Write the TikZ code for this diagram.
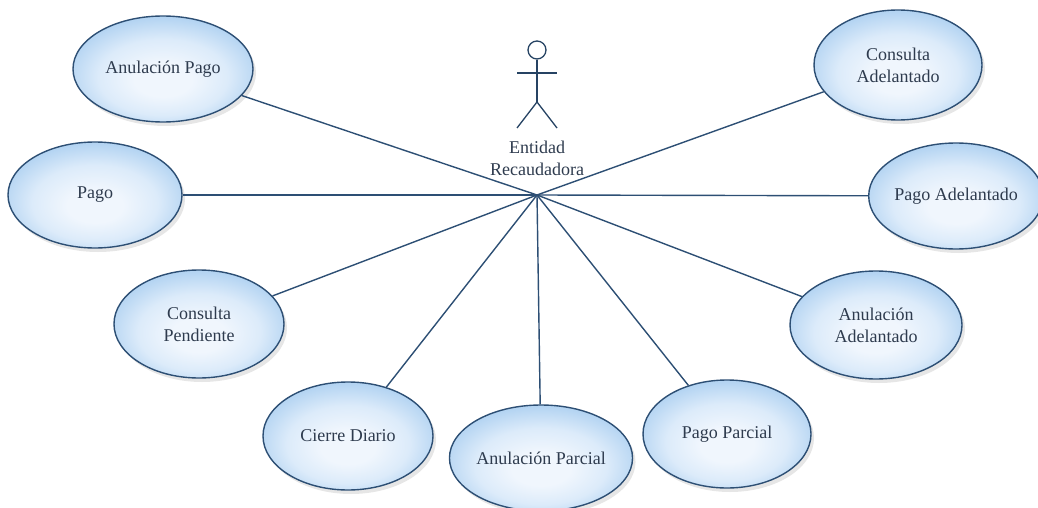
\documentclass[tikz,border=0pt]{standalone}
\usepackage{fontspec}
\setmainfont{Liberation Serif}
\usetikzlibrary{shapes.geometric,shadows}
\definecolor{edgeblue}{HTML}{2D4F74}
\definecolor{txtcol}{HTML}{2E3B4E}
\definecolor{innerblue}{HTML}{F0F6FD}
\definecolor{midblue}{HTML}{DCEBFA}
\definecolor{outerblue}{HTML}{B4D4F2}
\pgfdeclareradialshading{ucshade}{\pgfpoint{0bp}{-6bp}}{%
  color(0bp)=(innerblue); color(8bp)=(innerblue); color(18bp)=(midblue);
  color(27bp)=(outerblue); color(50bp)=(outerblue)}
\tikzset{
  usecase/.style={ellipse, draw=edgeblue, line width=1.4pt,
    shading=ucshade,
    text=txtcol, align=center, inner sep=0pt,
    font=\fontsize{18}{22}\selectfont,
    drop shadow={shadow xshift=3pt, shadow yshift=-4pt, opacity=0.16, fill=black!60}},
  link/.style={draw=edgeblue, line width=1.4pt},
  actorline/.style={draw=edgeblue!85!black, line width=1.3pt},
}
\newcommand{\uc}[5]{\node[usecase, minimum width=#3pt, minimum height=#4pt] (#1) at #2 {#5};}
\begin{document}
\begin{tikzpicture}[x=1pt,y=-1pt]
\useasboundingbox (0,0) rectangle (1038,508);
\coordinate (hub) at (537,195);
\uc{ap}{(163,69)}{180}{106}{Anulación Pago}
\uc{pago}{(95,195)}{174}{106}{Pago}
\uc{cp}{(199,324)}{170}{108}{Consulta\\Pendiente}
\uc{cd}{(348,436)}{170}{108}{Cierre Diario}
\uc{anp}{(541,458)}{168}{106}{Anulación Parcial}
\uc{pp}{(727,434)}{168}{108}{Pago Parcial}
\uc{aa}{(876,325)}{172}{108}{Anulación\\Adelantado}
\uc{pa}{(956,196)}{158}{106}{Pago Adelantado}
\uc{ca}{(898,65)}{168}{110}{Consulta\\Adelantado}
\foreach \n in {ap,pago,cp,cd,anp,pp,aa,pa,ca}{
  \draw[link] (hub) -- (\n);
}
% actor
\node[draw=edgeblue!85!black, line width=1.3pt, circle, minimum size=18pt, inner sep=0pt] (head) at (537,50) {};
\coordinate (hip) at (537,102);
\coordinate (larm) at (517,73);
\coordinate (rarm) at (557,73);
\coordinate (lfoot) at (517,128);
\coordinate (rfoot) at (557,128);
\draw[actorline] (head.south) -- (hip);
\draw[actorline] (larm) -- (rarm);
\draw[actorline] (lfoot) -- (hip) -- (rfoot);
\node[text=txtcol, align=center, font=\fontsize{18}{22}\selectfont] (actorlbl) at (537,158) {Entidad\\Recaudadora};
\end{tikzpicture}
\end{document}
